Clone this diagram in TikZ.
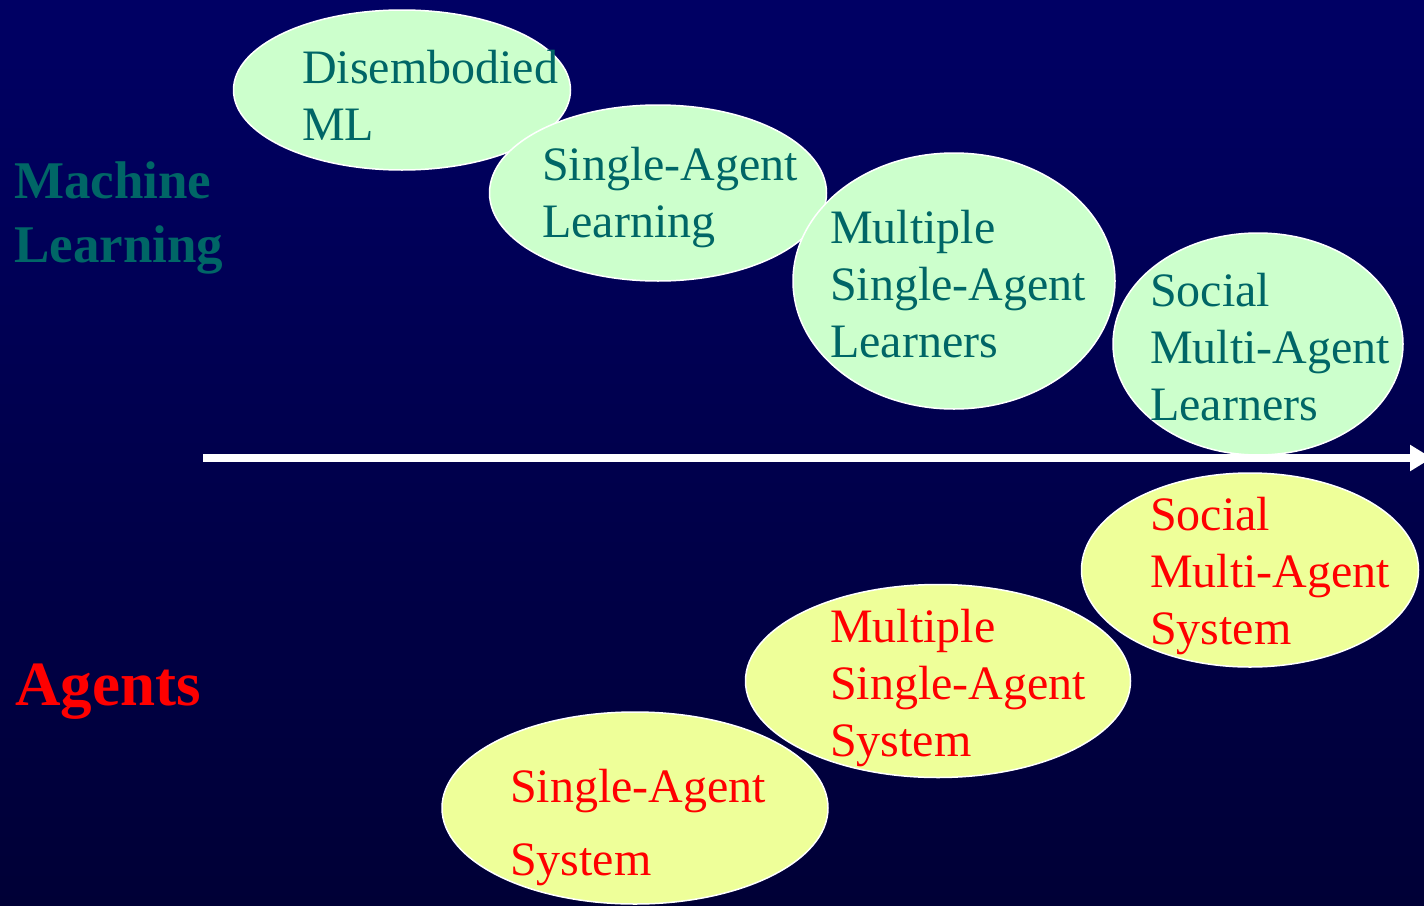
\documentclass[tikz,border=0pt]{standalone}
\usepackage{fontspec}
\setmainfont{Liberation Serif}
\usetikzlibrary{shapes.geometric,arrows.meta}
\definecolor{bgtop}{RGB}{0,0,100}
\definecolor{bgbot}{RGB}{0,0,54}
\definecolor{mlgreen}{RGB}{204,255,204}
\definecolor{agyellow}{RGB}{238,255,153}
\definecolor{tealtext}{RGB}{0,102,102}
\definecolor{redtext}{RGB}{255,0,0}
\tikzset{
  blob/.style={ellipse, draw=white, line width=1.5pt, inner sep=0pt},
  mlblob/.style={blob, fill=mlgreen},
  agblob/.style={blob, fill=agyellow},
  lbl/.style={anchor=base west, inner sep=0pt, font=\fontsize{48}{57}\selectfont},
  mllbl/.style={lbl, text=tealtext},
  aglbl/.style={lbl, text=redtext},
  side/.style={anchor=base west, inner sep=0pt, font=\bfseries\fontsize{53}{64}\selectfont}
}
\newcommand{\lines}[1]{\begin{tabular}[t]{@{}l@{}}#1\end{tabular}}
\begin{document}
\begin{tikzpicture}[x=1pt,y=-1pt]
\useasboundingbox (0,0) rectangle (1424,905);
\clip (0,0) rectangle (1424,905);
\shade[top color=bgtop, bottom color=bgbot] (0,0) rectangle (1424,905);

% Machine learning ellipses
\node[mlblob, minimum width=337pt, minimum height=160pt] (e1) at (402,90) {};
\node[mlblob, minimum width=337pt, minimum height=176pt] (e2) at (658,193) {};
\node[mlblob, minimum width=322pt, minimum height=256pt] (e3) at (954,281) {};
\node[mlblob, minimum width=290pt, minimum height=222pt] (e4) at (1258,344) {};

\node[mllbl] (t1) at (302,83) {\lines{Disembodied\\ML}};
\node[mllbl] (t2) at (542,180) {\lines{Single-Agent\\Learning}};
\node[mllbl] (t3) at (830,243) {\lines{Multiple\\Single-Agent\\Learners}};
\node[mllbl] (t4) at (1150,306) {\lines{Social\\Multi-Agent\\Learners}};

% Agent ellipses
\node[agblob, minimum width=337pt, minimum height=194pt] (a3) at (1250,570) {};
\node[agblob, minimum width=385pt, minimum height=193pt] (a2) at (938,681) {};
\node[agblob, minimum width=386pt, minimum height=192pt] (a1) at (635,808) {};

\node[aglbl] (s3) at (1150,530) {\lines{Social\\Multi-Agent\\System}};
\node[aglbl] (s2) at (830,642) {\lines{Multiple\\Single-Agent\\System}};
\node[aglbl, font=\fontsize{48}{73}\selectfont] (s1) at (510,802) {\lines{Single-Agent\\System}};

% Side labels
\node[side, text=tealtext] (ml) at (14,198) {\lines{Machine\\Learning}};
\node[side, text=redtext, font=\bfseries\fontsize{63}{70}\selectfont] (ag) at (15,705) {Agents};

% Axis arrow
\coordinate (ax0) at (203,458);
\coordinate (ax1) at (1432,458);
\draw[white, line width=8.5pt, -{Triangle[length=22pt, width=25pt]}] (ax0) -- (ax1);
\end{tikzpicture}
\end{document}
